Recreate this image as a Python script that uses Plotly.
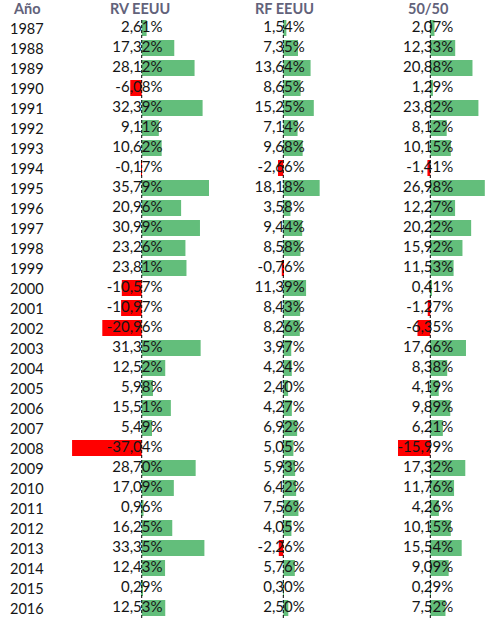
import plotly.graph_objects as go

years = list(range(1987, 2017))

rv_eeuu = [2.61, 17.32, 28.12, -6.08, 32.39, 9.11, 10.62, -0.17, 35.79, 20.96,
           30.99, 23.26, 23.81, -10.57, -10.97, -20.96, 31.35, 12.52, 5.98, 15.51,
           5.49, -37.04, 28.70, 17.09, 0.96, 16.25, 33.35, 12.43, 0.29, 12.53]
rf_eeuu = [1.54, 7.35, 13.64, 8.65, 15.25, 7.14, 9.68, -2.66, 18.18, 3.58,
           9.44, 8.58, -0.76, 11.39, 8.43, 8.26, 3.97, 4.24, 2.40, 4.27,
           6.92, 5.05, 5.93, 6.42, 7.56, 4.05, -2.26, 5.76, 0.30, 2.50]
mix_50_50 = [2.07, 12.33, 20.88, 1.29, 23.82, 8.12, 10.15, -1.41, 26.98, 12.27,
             20.22, 15.92, 11.53, 0.41, -1.27, -6.35, 17.66, 8.38, 4.19, 9.89,
             6.21, -15.99, 17.32, 11.76, 4.26, 10.15, 15.54, 9.09, 0.29, 7.52]

headers = ["RV EEUU", "RF EEUU", "50/50"]
year_header = "Año"

GREEN = "#63BE7B"
RED = "#FF0000"
TXT = "#151515"
HEAD = "#62627a"
FONT = "Lato"

# (series, x-axis name, pixel domain, range in % units, decimal offset)
W = 496
cols = [
    (rv_eeuu, "x", (60, 222), (-43.46, 42.71), -4.6),
    (rf_eeuu, "x2", (230, 345), (-26.65, 30.85), -4.0),
    (mix_50_50, "x3", (352, 496), (-38.76, 32.52), -3.2),
]


def split_pct(v):
    s = f"{v:.2f}".replace(".", ",")
    a, b = s.split(",")
    return a + ",", b + "%"


fig = go.Figure()
shapes = []
annotations = []

for i, (vals, xa, dom, rng, off) in enumerate(cols):
    colors = [GREEN if v >= 0 else RED for v in vals]
    fig.add_trace(go.Bar(x=vals, y=years, orientation="h", width=0.8,
                         marker=dict(color=colors, line=dict(width=0)),
                         xaxis=xa, yaxis="y", showlegend=False, hoverinfo="skip"))
    left = [split_pct(v)[0] for v in vals]
    right = [split_pct(v)[1] for v in vals]
    fig.add_trace(go.Scatter(x=[off] * len(vals), y=years, mode="text", text=left,
                             textposition="middle left",
                             textfont=dict(family=FONT, size=15, color=TXT),
                             xaxis=xa, yaxis="y", showlegend=False, hoverinfo="skip"))
    fig.add_trace(go.Scatter(x=[off] * len(vals), y=years, mode="text", text=right,
                             textposition="middle right",
                             textfont=dict(family=FONT, size=15, color=TXT),
                             xaxis=xa, yaxis="y", showlegend=False, hoverinfo="skip"))
    shapes.append(dict(type="line", xref=xa, yref="y", x0=0, x1=0, y0=1986.6, y1=2016.6,
                       line=dict(color="black", width=1, dash="3px,2px")))
    axname = "xaxis" if xa == "x" else "xaxis" + xa[1:]
    fig.layout[axname] = dict(domain=[dom[0] / W, dom[1] / W], range=list(rng),
                              visible=False, anchor="y", fixedrange=True)

header_x = [140, 284, 428]
for h, hx in zip(headers, header_x):
    annotations.append(dict(text="<b>" + h + "</b>", x=hx / W, xref="paper", y=1986.0, yref="y",
                            showarrow=False, xanchor="center", yanchor="middle",
                            font=dict(family=FONT, size=14.5, color=HEAD)))
annotations.append(dict(text="<b>" + year_header + "</b>", x=27 / W, xref="paper", y=1986.0, yref="y",
                        showarrow=False, xanchor="center", yanchor="middle",
                        font=dict(family=FONT, size=14.5, color=HEAD)))
for yr in years:
    annotations.append(dict(text=str(yr), x=27 / W, xref="paper", y=yr, yref="y",
                            showarrow=False, xanchor="center", yanchor="middle",
                            font=dict(family=FONT, size=14.5, color=TXT)))

fig.update_layout(
    width=496, height=619,
    margin=dict(l=0, r=0, t=0, b=0),
    paper_bgcolor="white", plot_bgcolor="white",
    barmode="overlay",
    yaxis=dict(range=[2016.55, 1985.6], visible=False, fixedrange=True, anchor="x"),
    shapes=shapes, annotations=annotations,
)

fig.write_html("out.html", config={"displayModeBar": False},
               post_script="document.body.style.margin='0';")
